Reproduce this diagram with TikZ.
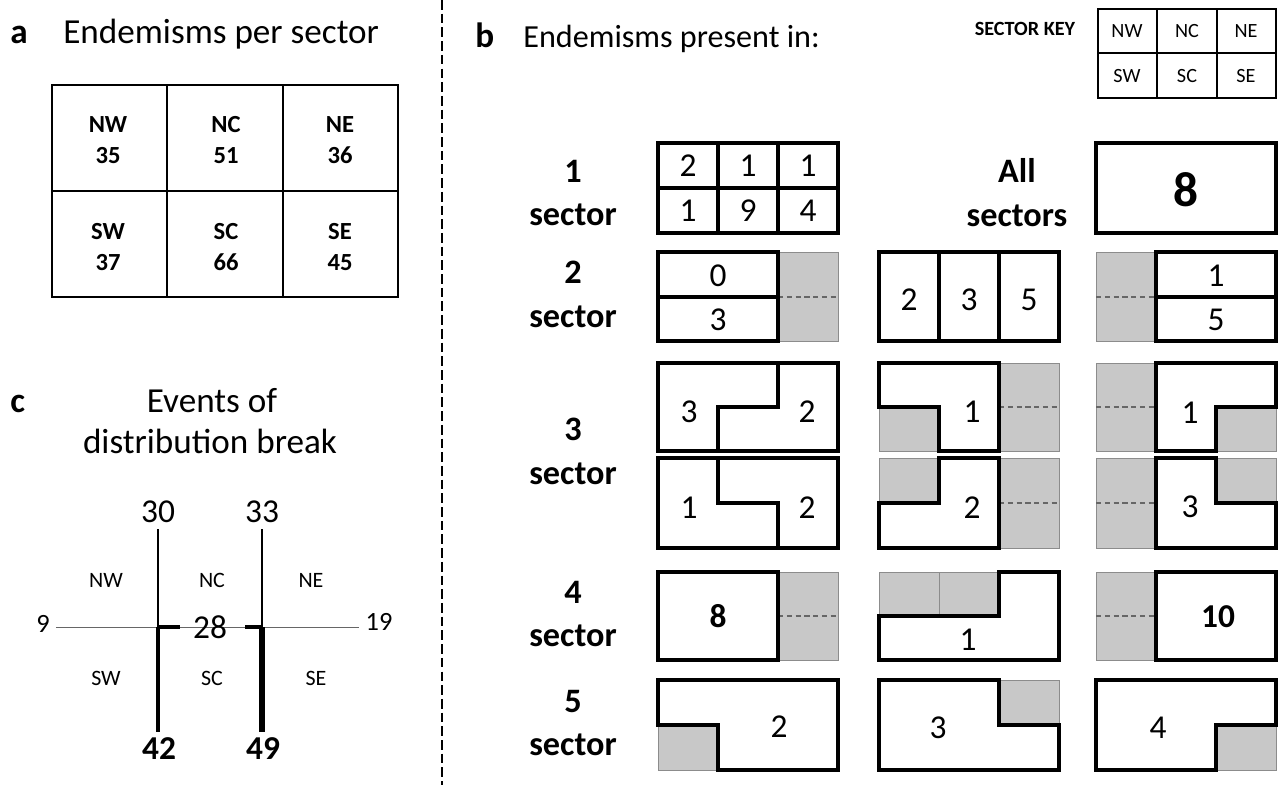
\documentclass[tikz,border=0pt]{standalone}
\usepackage{fontspec}
\setmainfont{Carlito}
\usepackage{xcolor}
\usepackage{tikz}
\usetikzlibrary{positioning}
\definecolor{cellgrey}{RGB}{200,200,200}

\begin{document}
\begin{tikzpicture}[
    x=0.02cm, y=-0.02cm,
    panel/.style={font=\bfseries\fontsize{20}{24}\selectfont, inner sep=0pt},
    heading/.style={font=\fontsize{20}{24}\selectfont, inner sep=0pt},
    cellab/.style={font=\bfseries\fontsize{14}{17.5}\selectfont, align=center},
    keylab/.style={font=\fontsize{11.5}{13}\selectfont},
    rowlab/.style={font=\bfseries\fontsize{19.5}{25}\selectfont, align=center},
    num/.style={font=\fontsize{19}{22}\selectfont},
    bignum/.style={font=\bfseries\fontsize{19}{22}\selectfont},
    regionlab/.style={font=\fontsize{12.5}{15}\selectfont},
    frame/.style={line width=2pt},
    greybox/.style={fill=cellgrey, draw=black!45, line width=0.4pt},
    greysplit/.style={densely dashed, draw=black!60, line width=0.8pt}
]
\useasboundingbox (0,0) rectangle (1279,785);

% divider between panels
\draw[line width=1.7pt, dash pattern=on 5.5pt off 2.3pt] (442,0) -- (442,785);

% panel a
\node[panel, anchor=base west] (labA) at (10,43) {a};
\node[heading, anchor=base west] (titleA) at (63,43) {Endemisms per sector};
\draw[line width=1.5pt] (52,85) rectangle (398,297);
\draw[line width=1.5pt] (167,85) -- (167,297) (283,85) -- (283,297) (52,191) -- (398,191);
\foreach \s/\n/\x/\y in {NW/35/108/140, NC/51/226/140, NE/36/340/140, SW/37/108/247, SC/66/226/247, SE/45/340/247}
  \node[cellab] (a\s) at (\x,\y) {\s\\\n};

% panel c
\node[panel, anchor=base west] (labC) at (10,412) {c};
\node[heading, anchor=base] (titleC1) at (212,412) {Events of};
\node[heading, anchor=base] (titleC2) at (210,453) {distribution break};
\node[regionlab] (cNW) at (106,580) {NW};
\node[regionlab] (cNC) at (212,580) {NC};
\node[regionlab] (cNE) at (311,580) {NE};
\node[regionlab] (cSW) at (106,678) {SW};
\node[regionlab] (cSC) at (212,678) {SC};
\node[regionlab] (cSE) at (316,678) {SE};
\coordinate (crossW) at (158,627);
\coordinate (crossE) at (262,627);
\node[num] (brkN1) at (158,512) {30};
\node[num] (brkN2) at (262,512) {33};
\node[bignum] (brkS1) at (159,749) {42};
\node[bignum] (brkS2) at (263,749) {49};
\node[font=\fontsize{15}{18}\selectfont] (brkW) at (43,624) {9};
\node[font=\fontsize{15}{18}\selectfont] (brkE) at (379,622) {19};
\draw[black!60, line width=0.5pt] (brkW.east |- crossW) -- (brkE.west |- crossE);
\draw[line width=1.5pt] (brkN1.south) -- (crossW);
\draw[line width=1.5pt] (brkN2.south) -- (crossE);
\draw[line width=2.2pt] (crossW) -- (brkS1.north -| crossW);
\draw[line width=3pt] (crossE) -- (brkS2.north -| crossE);
\draw[line width=1.8pt] (crossW) -- ++(22,0);
\draw[line width=1.8pt] (crossE) -- ++(-17,0);
\node[num] (brkC) at (210,627) {28};

% panel b
\node[panel, anchor=base west] (labB) at (475,47) {b};
\node[heading, anchor=base west, font=\fontsize{18.3}{22}\selectfont] (titleB) at (523,47) {Endemisms present in:};
\node[font=\bfseries\fontsize{11.5}{14}\selectfont] (keyTitle) at (1025,29) {SECTOR KEY};
\draw[line width=1pt] (1098,9) rectangle (1276,98);
\draw[line width=1pt] (1157,9) -- (1157,98) (1217,9) -- (1217,98) (1098,53) -- (1276,53);
\foreach \s/\x/\y in {NW/1127/31, NC/1187/31, NE/1246/31, SW/1127/76, SC/1187/76, SE/1246/76}
  \node[keylab] (key\s) at (\x,\y) {\s};

\node[rowlab] (row1) at (573,193) {1\\sector};
\node[rowlab] (row2) at (573,294) {2\\sector};
\node[rowlab] (row3) at (573,451) {3\\sector};
\node[rowlab] (row4) at (573,614) {4\\sector};
\node[rowlab] (row5) at (573,723) {5\\sector};
\node[rowlab] (allrow) at (1017,193) {All\\sectors};

% 1 sector
\draw[frame] (658,143) rectangle (838,233);
\draw[frame] (718,143) -- (718,233) (778,143) -- (778,233) (658,188) -- (838,188);
\foreach \n/\x/\y in {2/688/166, 1/748/166, 1/808/166, 1/688/211, 9/748/211, 4/808/211}
  \node[num] (one\x\y) at (\x,\y) {\n};
\draw[frame] (1096,143) rectangle (1276,233);
\node[font=\bfseries\fontsize{28}{32}\selectfont] (allnum) at (1186,190) {8};

% 2 sector
\filldraw[greybox] (778,252) rectangle (838,341);
\draw[greysplit] (778,297) -- (838,297);
\draw[frame] (658,252) rectangle (778,341) (658,297) -- (778,297);
\node[num] (twoA1) at (718,276) {0};
\node[num] (twoA2) at (718,320) {3};
\draw[frame] (879,252) rectangle (1059,341);
\draw[frame] (939,252) -- (939,341) (999,252) -- (999,341);
\node[num] (twoB1) at (909,300) {2};
\node[num] (twoB2) at (969,300) {3};
\node[num] (twoB3) at (1029,300) {5};
\filldraw[greybox] (1096,252) rectangle (1156,341);
\draw[greysplit] (1096,297) -- (1156,297);
\draw[frame] (1156,252) rectangle (1276,341) (1156,297) -- (1276,297);
\node[num] (twoC1) at (1216,276) {1};
\node[num] (twoC2) at (1216,320) {5};

% 3 sector
\draw[frame] (658,363) rectangle (838,451);
\draw[frame] (778,363) -- (778,407) -- (718,407) -- (718,451);
\node[num] (thrA1) at (689,412) {3};
\node[num] (thrA2) at (807,412) {2};
\draw[frame] (658,458) rectangle (838,548);
\draw[frame] (718,458) -- (718,503) -- (778,503) -- (778,548);
\node[num] (thrA3) at (689,508) {1};
\node[num] (thrA4) at (807,508) {2};

\filldraw[greybox] (999,363) rectangle (1059,451);
\draw[greysplit] (999,407) -- (1059,407);
\filldraw[greybox] (879,407) rectangle (939,451);
\draw[frame] (879,363) -- (999,363) -- (999,451) -- (939,451) -- (939,407) -- (879,407) -- cycle;
\node[num] (thrB1) at (972,412) {1};
\filldraw[greybox] (999,458) rectangle (1059,548);
\draw[greysplit] (999,503) -- (1059,503);
\filldraw[greybox] (879,458) rectangle (939,503);
\draw[frame] (939,458) -- (999,458) -- (999,548) -- (879,548) -- (879,503) -- (939,503) -- cycle;
\node[num] (thrB2) at (972,508) {2};

\filldraw[greybox] (1096,363) rectangle (1156,451);
\draw[greysplit] (1096,407) -- (1156,407);
\filldraw[greybox] (1216,407) rectangle (1276,451);
\draw[frame] (1156,363) -- (1276,363) -- (1276,407) -- (1216,407) -- (1216,451) -- (1156,451) -- cycle;
\node[num] (thrC1) at (1190,413) {1};
\filldraw[greybox] (1096,458) rectangle (1156,548);
\draw[greysplit] (1096,503) -- (1156,503);
\filldraw[greybox] (1216,458) rectangle (1276,503);
\draw[frame] (1156,458) -- (1216,458) -- (1216,503) -- (1276,503) -- (1276,548) -- (1156,548) -- cycle;
\node[num] (thrC2) at (1190,507) {3};

% 4 sector
\filldraw[greybox] (778,572) rectangle (838,660);
\draw[greysplit] (778,616) -- (838,616);
\draw[frame] (658,572) rectangle (778,660);
\node[bignum] (fouA) at (718,616) {8};
\filldraw[greybox] (879,572) rectangle (939,616);
\filldraw[greybox] (939,572) rectangle (999,616);
\draw[frame] (999,572) -- (1059,572) -- (1059,660) -- (879,660) -- (879,616) -- (999,616) -- cycle;
\node[num] (fouB) at (968,640) {1};
\filldraw[greybox] (1096,572) rectangle (1156,660);
\draw[greysplit] (1096,616) -- (1156,616);
\draw[frame] (1156,572) rectangle (1276,660);
\node[bignum] (fouC) at (1218,617) {10};

% 5 sector
\filldraw[greybox] (658,725) rectangle (718,770);
\draw[frame] (658,680) -- (838,680) -- (838,770) -- (718,770) -- (718,725) -- (658,725) -- cycle;
\node[num] (fivA) at (779,727) {2};
\filldraw[greybox] (999,680) rectangle (1059,725);
\draw[frame] (879,680) -- (999,680) -- (999,725) -- (1059,725) -- (1059,770) -- (879,770) -- cycle;
\node[num] (fivB) at (938,728) {3};
\filldraw[greybox] (1216,725) rectangle (1276,770);
\draw[frame] (1096,680) -- (1276,680) -- (1276,725) -- (1216,725) -- (1216,770) -- (1096,770) -- cycle;
\node[num] (fivC) at (1158,728) {4};
\end{tikzpicture}
\end{document}
